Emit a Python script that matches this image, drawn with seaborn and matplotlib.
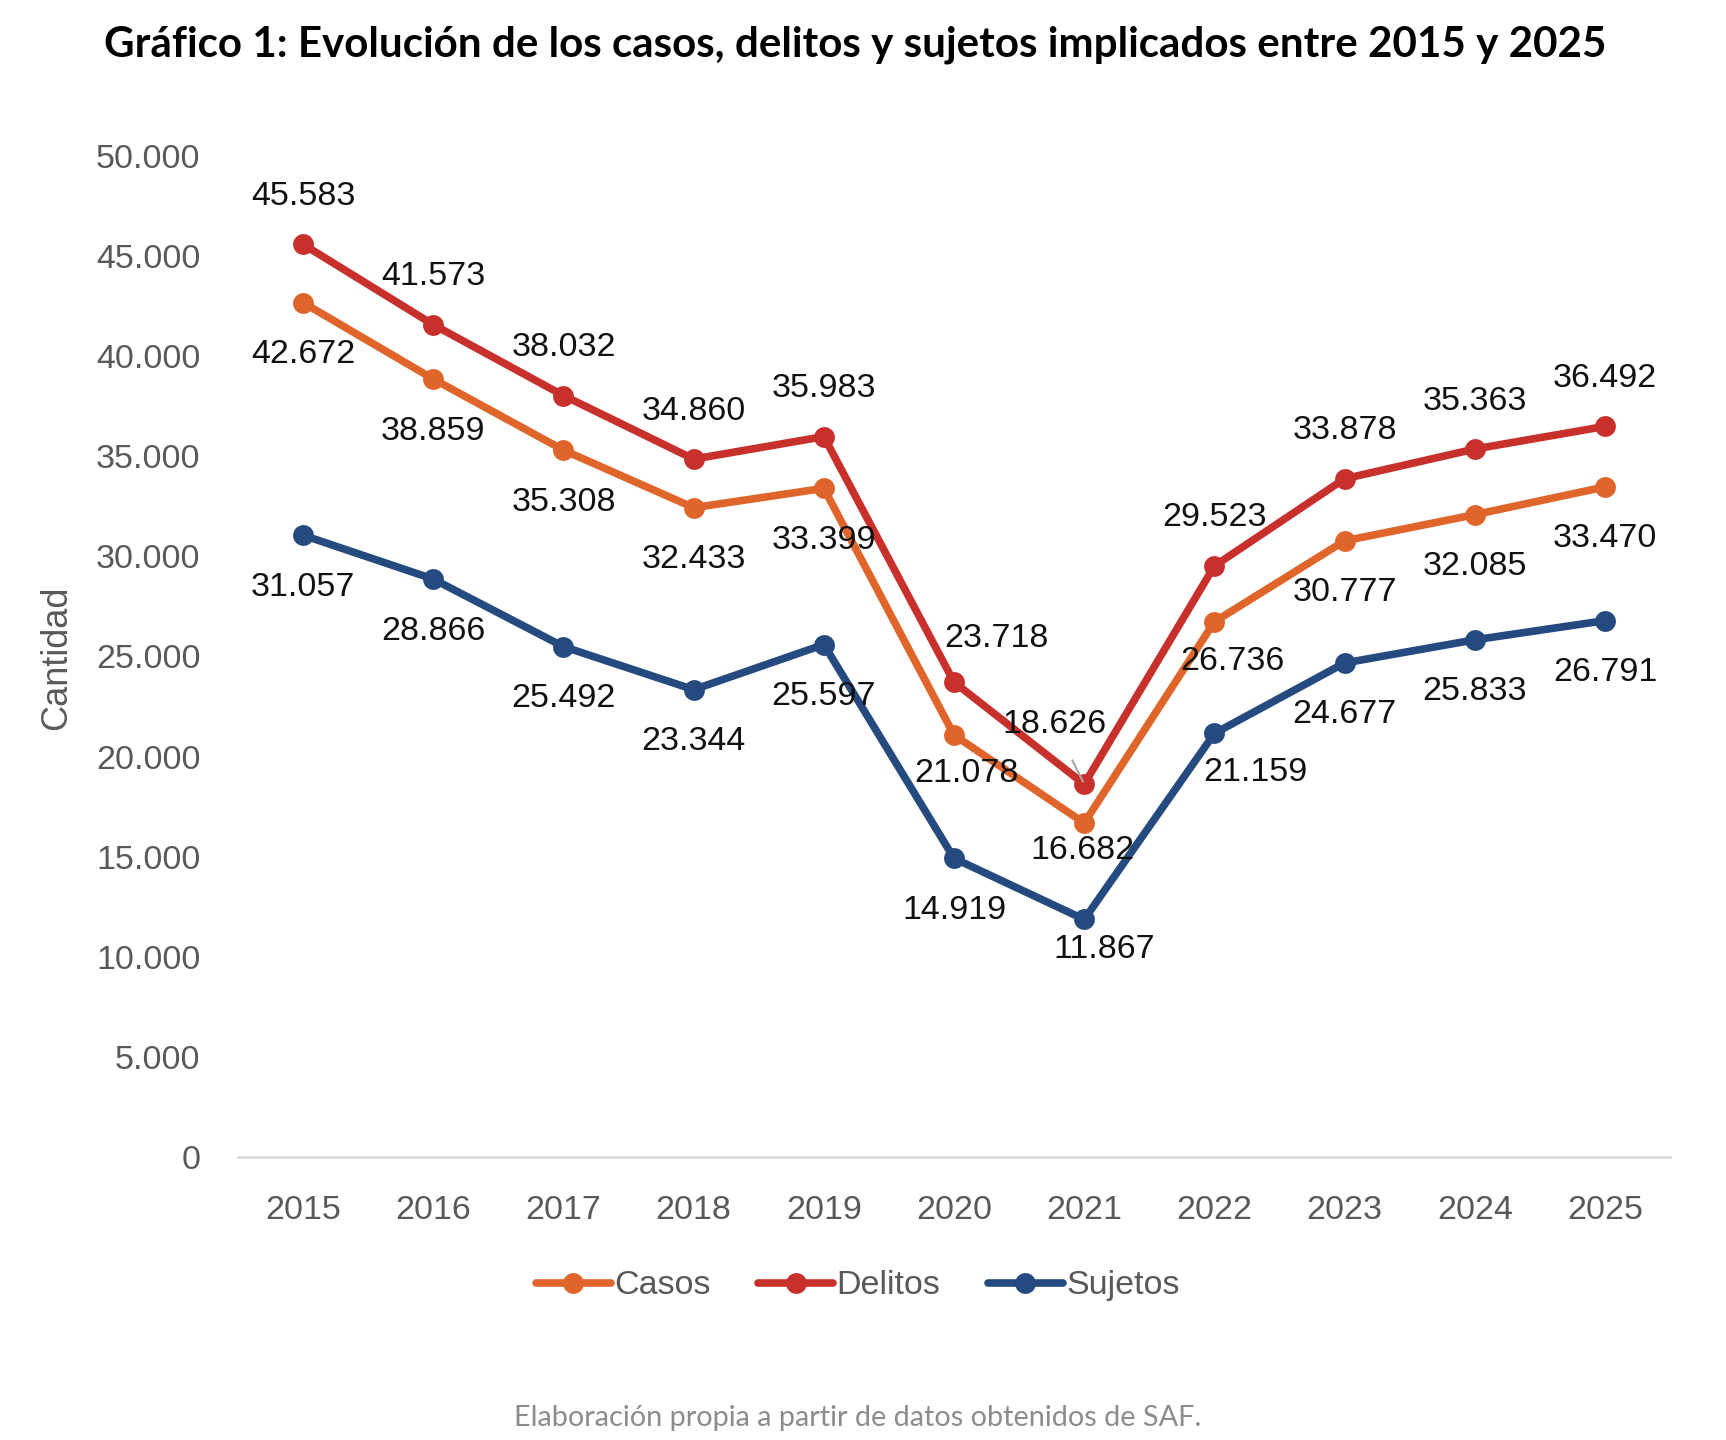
import pandas as pd
import matplotlib.pyplot as plt
import seaborn as sns


years = ["2015", "2016", "2017", "2018", "2019", "2020", "2021", "2022", "2023", "2024", "2025"]
casos = [42672, 38859, 35308, 32433, 33399, 21078, 16682, 26736, 30777, 32085, 33470]
delitos = [45583, 41573, 38032, 34860, 35983, 23718, 18626, 29523, 33878, 35363, 36492]
sujetos = [31057, 28866, 25492, 23344, 25597, 14919, 11867, 21159, 24677, 25833, 26791]
series_names = ["Casos", "Delitos", "Sujetos"]
colors = ["#E0652B", "#C8302C", "#244A7F"]

TITLE = "Gráfico 1: Evolución de los casos, delitos y sujetos implicados entre 2015 y 2025"
FOOTNOTE = "Elaboración propia a partir de datos obtenidos de SAF."

# label offsets in pixels (default above for Delitos, below for the rest)
default_offset = {"Casos": (0, -52), "Delitos": (0, 48), "Sujetos": (0, -52)}
label_offsets = {
    ("Delitos", "2020"): (42, 44),
    ("Delitos", "2021"): (-30, 60),
    ("Casos", "2020"): (12, -38),
    ("Casos", "2021"): (-2, -27),
    ("Casos", "2022"): (18, -40),
    ("Sujetos", "2021"): (20, -30),
    ("Sujetos", "2022"): (41, -39),
}


def fmt(v):
    return f"{v:,}".replace(",", ".")


def build_df():
    frames = []
    for name, vals in zip(series_names, [casos, delitos, sujetos]):
        frames.append(pd.DataFrame({"year": years, "value": vals, "serie": name}))
    df = pd.concat(frames, ignore_index=True)
    df["x"] = df["year"].map({y: i for i, y in enumerate(years)})
    return df


def main():
    sns.set_style("white")
    plt.rcParams["font.family"] = ["Liberation Sans", "DejaVu Sans"]

    df = build_df()
    fig = plt.figure(figsize=(17.26, 14.4), dpi=100)
    ax = fig.add_axes([0.1379, 0.1965, 0.8297, 0.6952])

    sns.lineplot(
        data=df, x="x", y="value", hue="serie", hue_order=series_names,
        palette=colors, marker="o", markersize=15, markeredgewidth=0,
        linewidth=5.5, legend=False, ax=ax, clip_on=False,
    )

    for _, row in df.iterrows():
        off = label_offsets.get((row["serie"], row["year"]), default_offset[row["serie"]])
        arrow = None
        if (row["serie"], row["year"]) == ("Delitos", "2021"):
            arrow = dict(arrowstyle="-", color="#A6A6A6", lw=1.5, shrinkA=14, shrinkB=2)
        ax.annotate(
            fmt(row["value"]), (row["x"], row["value"]),
            xytext=off, textcoords="offset pixels",
            ha="center", va="center", fontsize=24.5, color="#111111",
            arrowprops=arrow, zorder=5,
        )

    ax.set_xlim(-0.5, 10.5)
    ax.set_ylim(0, 50000)
    ax.set_xticks(range(len(years)))
    ax.set_xticklabels(years)
    ax.set_yticks(range(0, 50001, 5000))
    ax.set_yticklabels([fmt(v) for v in range(0, 50001, 5000)])
    ax.tick_params(axis="both", length=0, labelsize=24.5, labelcolor="#595959")
    ax.tick_params(axis="x", pad=27)
    ax.tick_params(axis="y", pad=27)
    ax.set_xlabel("")
    ax.set_ylabel("")
    for side in ["top", "right", "left"]:
        ax.spines[side].set_visible(False)
    ax.spines["bottom"].set_color("#D9D9D9")
    ax.spines["bottom"].set_linewidth(2)

    fig.text(0.033, 0.543, "Cantidad", rotation=90, ha="center", va="center",
             fontsize=26, color="#595959")

    handles = [
        plt.Line2D([], [], color=c, marker="o", markersize=15, linewidth=5.5, markeredgewidth=0)
        for c in colors
    ]
    fig.legend(handles, series_names, loc="center", bbox_to_anchor=(0.497, 0.107),
               ncol=3, frameon=False, fontsize=24.5, labelcolor="#595959",
               handlelength=2.2, handletextpad=0.1, columnspacing=1.4)

    fig.text(0.4955, 0.969, TITLE, ha="center", va="center", fontsize=30.3,
             fontweight="bold", family=["Lato", "DejaVu Sans"], color="black")
    fig.text(0.497, 0.0153, FOOTNOTE, ha="center", va="center", fontsize=20.8,
             family=["Lato", "DejaVu Sans"], color="#8C8C8C")

    fig.savefig("out.png", dpi=100)
    plt.close(fig)


if __name__ == "__main__":
    main()
